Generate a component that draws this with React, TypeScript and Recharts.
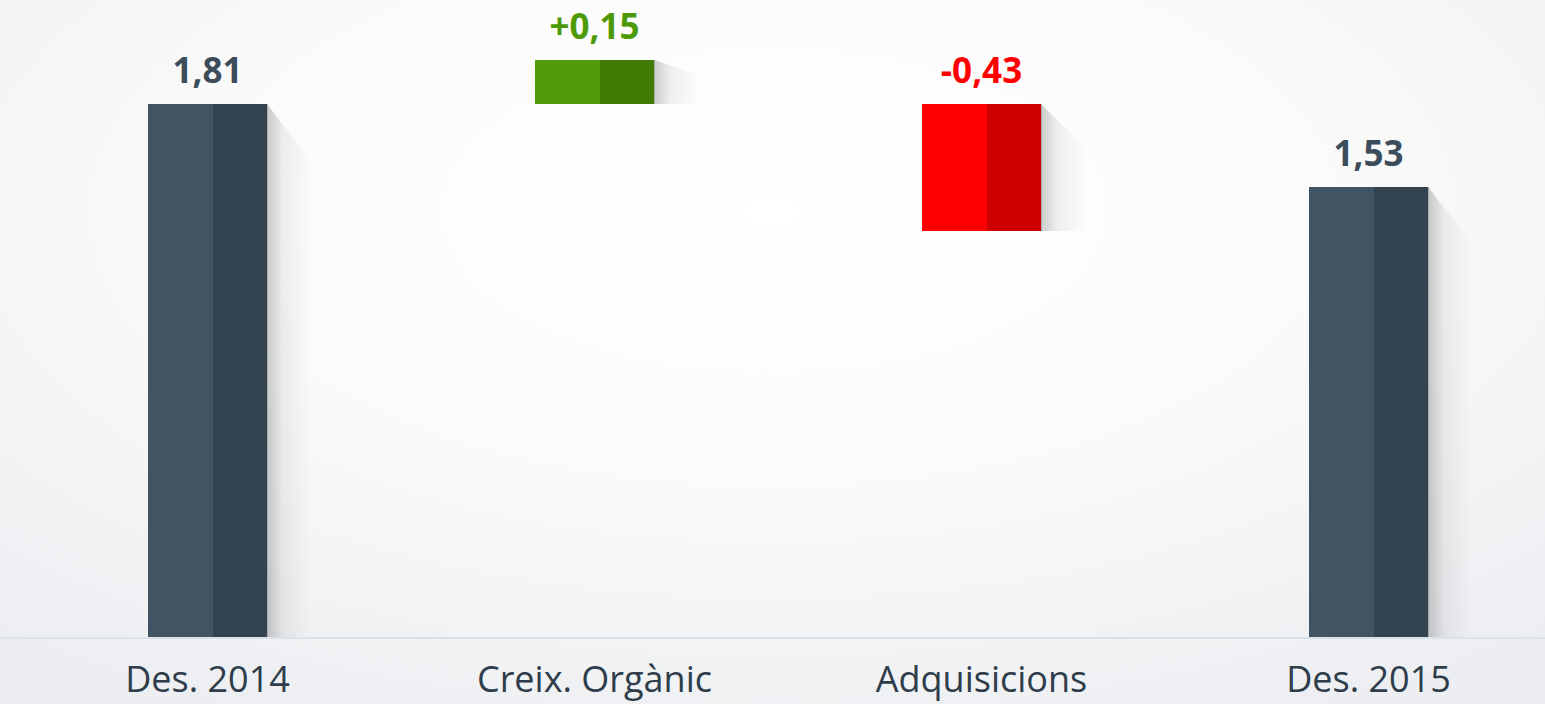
import { BarChart, Bar, XAxis, YAxis, LabelList, Cell } from "recharts";

const CATEGORIES = ["Des. 2014", "Creix. Orgànic", "Adquisicions", "Des. 2015"];
const RANGE_LOW = [0, 1.81, 1.38, 0];
const RANGE_HIGH = [1.81, 1.96, 1.81, 1.53];
const VALUE_LABELS = ["1,81", "+0,15", "-0,43", "1,53"];
const KINDS = ["total", "up", "down", "total"];

const PALETTE: Record<string, { light: string; dark: string; text: string }> = {
  total: { light: "#415464", dark: "#334450", text: "#3b4c5b" },
  up: { light: "#519a0a", dark: "#417b06", text: "#4e9a06" },
  down: { light: "#ff0000", dark: "#cc0000", text: "#ff0000" },
};

const data = CATEGORIES.map((name, i) => ({
  name,
  range: [RANGE_LOW[i], RANGE_HIGH[i]],
  label: VALUE_LABELS[i],
  kind: KINDS[i],
}));

function SplitBar(props: any) {
  const { x, y, width, height, payload } = props;
  if (!height) return null;
  const c = PALETTE[payload.kind];
  const split = Math.round(width * 0.55);
  const sw = 45;
  const drop = Math.min(sw * 1.3, height * 0.35);
  return (
    <g shapeRendering="crispEdges">
      <polygon
        points={`${x + width},${y} ${x + width + sw},${y + drop} ${x + width + sw},${y + height} ${x + width},${y + height}`}
        fill="url(#shade)"
        shapeRendering="auto"
      />
      <rect x={x} y={y} width={split + 1} height={height} fill={c.light} />
      <rect x={x + split} y={y} width={width - split} height={height} fill={c.dark} />
      <line x1={x + width} y1={y} x2={x + width} y2={y + height} stroke="#8a8f94" strokeOpacity={0.5} strokeWidth={1} />
    </g>
  );
}

function ValueLabel(props: any) {
  const { x, y, width, index } = props;
  const c = PALETTE[KINDS[index]];
  return (
    <text
      x={x + width / 2}
      y={y - 21}
      textAnchor="middle"
      fill={c.text}
      fontSize={35}
      fontWeight={700}
      fontFamily="'Open Sans', sans-serif"
    >
      {VALUE_LABELS[index]}
    </text>
  );
}

function CategoryTick(props: any) {
  const { x, y, payload } = props;
  return (
    <text
      x={x}
      y={y}
      dy={46}
      textAnchor="middle"
      fill="#2f3d4b"
      fontSize={36}
      fontFamily="'Open Sans', sans-serif"
    >
      {payload.value}
    </text>
  );
}

export default function App() {
  return (
    <div
      style={{
        position: "absolute",
        left: 0,
        top: 0,
        width: 1545,
        height: 704,
        overflow: "hidden",
        background:
          "radial-gradient(ellipse 75% 80% at 50% 30%, #ffffff 0%, #fbfbfb 45%, #eceef1 100%)",
      }}
    >
      <BarChart
        width={1570}
        height={704}
        data={data}
        margin={{ top: 48, right: 0, bottom: 0, left: 0 }}
        barCategoryGap={0}
      >
        <defs>
          <linearGradient id="shade" x1="0" y1="0" x2="1" y2="0">
            <stop offset="0%" stopColor="#000" stopOpacity={0.2} />
            <stop offset="35%" stopColor="#000" stopOpacity={0.06} />
            <stop offset="100%" stopColor="#000" stopOpacity={0} />
          </linearGradient>
        </defs>
        <XAxis
          dataKey="name"
          padding={{ left: 14, right: 8 }}
          height={66}
          tickLine={false}
          axisLine={{ stroke: "#dbe2e9", strokeWidth: 2 }}
          tick={<CategoryTick />}
          interval={0}
        />
        <YAxis hide domain={[0, 2]} />
        <Bar dataKey="range" barSize={119} shape={<SplitBar />} isAnimationActive={false}>
          {data.map((d) => (
            <Cell key={d.name} />
          ))}
          <LabelList dataKey="label" content={<ValueLabel />} />
        </Bar>
      </BarChart>
    </div>
  );
}
